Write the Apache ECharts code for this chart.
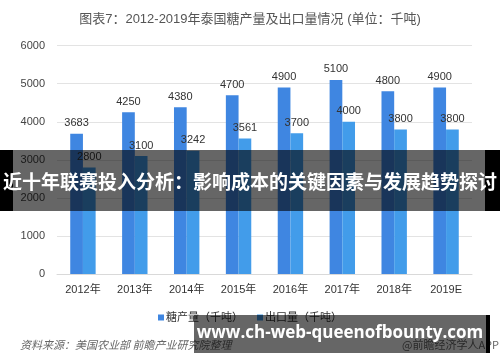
<!DOCTYPE html>
<html>
<head>
<meta charset="utf-8">
<script src="https://cdn.jsdelivr.net/npm/echarts@6/dist/echarts.min.js"></script>
<style>
html,body{margin:0;padding:0;background:#fff;}
#c{width:500px;height:362px;}
</style>
</head>
<body>
<div id="c"></div>
<script>
const categories = ['2012年','2013年','2014年','2015年','2016年','2017年','2018年','2019E'];
const production = [3683, 4250, 4380, 4700, 4900, 5100, 4800, 4900];
const exports = [2800, 3100, 3242, 3561, 3700, 4000, 3800, 3800];
const seriesNames = ['糖产量（千吨）', '出口量（千吨）'];
const titleText = '图表7：2012-2019年泰国糖产量及出口量情况 (单位：千吨)';
const bannerText = '近十年联赛投入分析：影响成本的关键因素与发展趋势探讨';
const siteText = 'www.ch-web-queenofbounty.com';
const sourceText = '资料来源：美国农业部 前瞻产业研究院整理';
const creditText = '@前瞻经济学人APP';

const FONT = '"Liberation Sans", "Noto Sans CJK SC", sans-serif';
const chart = echarts.init(document.getElementById('c'), null, {renderer: 'canvas'});
const labelStyle = {show: true, position: 'top', distance: 5, color: '#333', fontSize: 11, fontFamily: FONT};

chart.setOption({
  animation: false,
  backgroundColor: '#fff',
  title: {
    text: titleText, left: 'center', top: 8,
    textStyle: {fontSize: 13, fontWeight: 'normal', color: '#555', fontFamily: FONT}
  },
  legend: {
    data: seriesNames, left: 'center', top: 307, icon: 'rect', itemWidth: 6, itemHeight: 6, itemGap: 14,
    textStyle: {fontSize: 11, color: '#333', fontFamily: FONT, padding: [0,0,0,-3]}
  },
  grid: {left: 57, right: 28, top: 45.7, bottom: 88},
  xAxis: {
    type: 'category', data: categories,
    axisLine: {lineStyle: {color: '#d9d9d9'}},
    axisTick: {show: false},
    axisLabel: {color: '#333', fontSize: 11, fontFamily: FONT, margin: 10}
  },
  yAxis: {
    type: 'value', min: 0, max: 6000, interval: 1000,
    axisLine: {show: false}, axisTick: {show: false},
    axisLabel: {color: '#444', fontSize: 11, fontFamily: FONT, margin: 12, formatter: v => String(v)},
    splitLine: {lineStyle: {color: '#e3e3e3'}}
  },
  series: [
    {name: seriesNames[0], type: 'bar', data: production, barWidth: 12.7, barGap: '0%',
     itemStyle: {color: '#3F86E1'}, label: labelStyle},
    {name: seriesNames[1], type: 'bar', data: exports, barWidth: 12.7,
     itemStyle: {color: '#429CEA'}, label: labelStyle}
  ],
  graphic: [
    {type: 'text', left: 20, top: 339, z: 10,
     style: {text: sourceText, fill: '#666', font: 'italic 11px "Noto Sans CJK SC", sans-serif'}},
    {type: 'text', left: 402, top: 339, z: 10,
     style: {text: creditText, fill: '#666', font: '11px "Noto Sans CJK SC", sans-serif'}},
    {type: 'rect', shape: {x: 13, y: 150, width: 472, height: 61}, z: 100,
     style: {fill: 'rgba(0,0,0,0.6)'}},
    {type: 'rect', shape: {x: 0, y: 150, width: 13, height: 61}, z: 100, style: {fill: '#000'}},
    {type: 'rect', shape: {x: 485, y: 150, width: 15, height: 61}, z: 100, style: {fill: '#000'}},
    {type: 'text', x: 250, y: 182, z: 101,
     style: {text: bannerText, fill: '#fff', align: 'center', verticalAlign: 'middle',
             font: 'bold 19px "Noto Sans CJK SC", sans-serif'}},
    {type: 'rect', shape: {x: 194, y: 315, width: 292, height: 38}, z: 100,
     style: {fill: 'rgba(0,0,0,0.6)'}},
    {type: 'rect', shape: {x: 486, y: 315, width: 4, height: 38}, z: 100, style: {fill: '#000'}},
    {type: 'text', x: 340, y: 333, z: 101,
     style: {text: siteText, fill: '#fff', align: 'center', verticalAlign: 'middle',
             font: 'bold 17px "Open Sans", sans-serif'}}
  ]
});
</script>
</body>
</html>
